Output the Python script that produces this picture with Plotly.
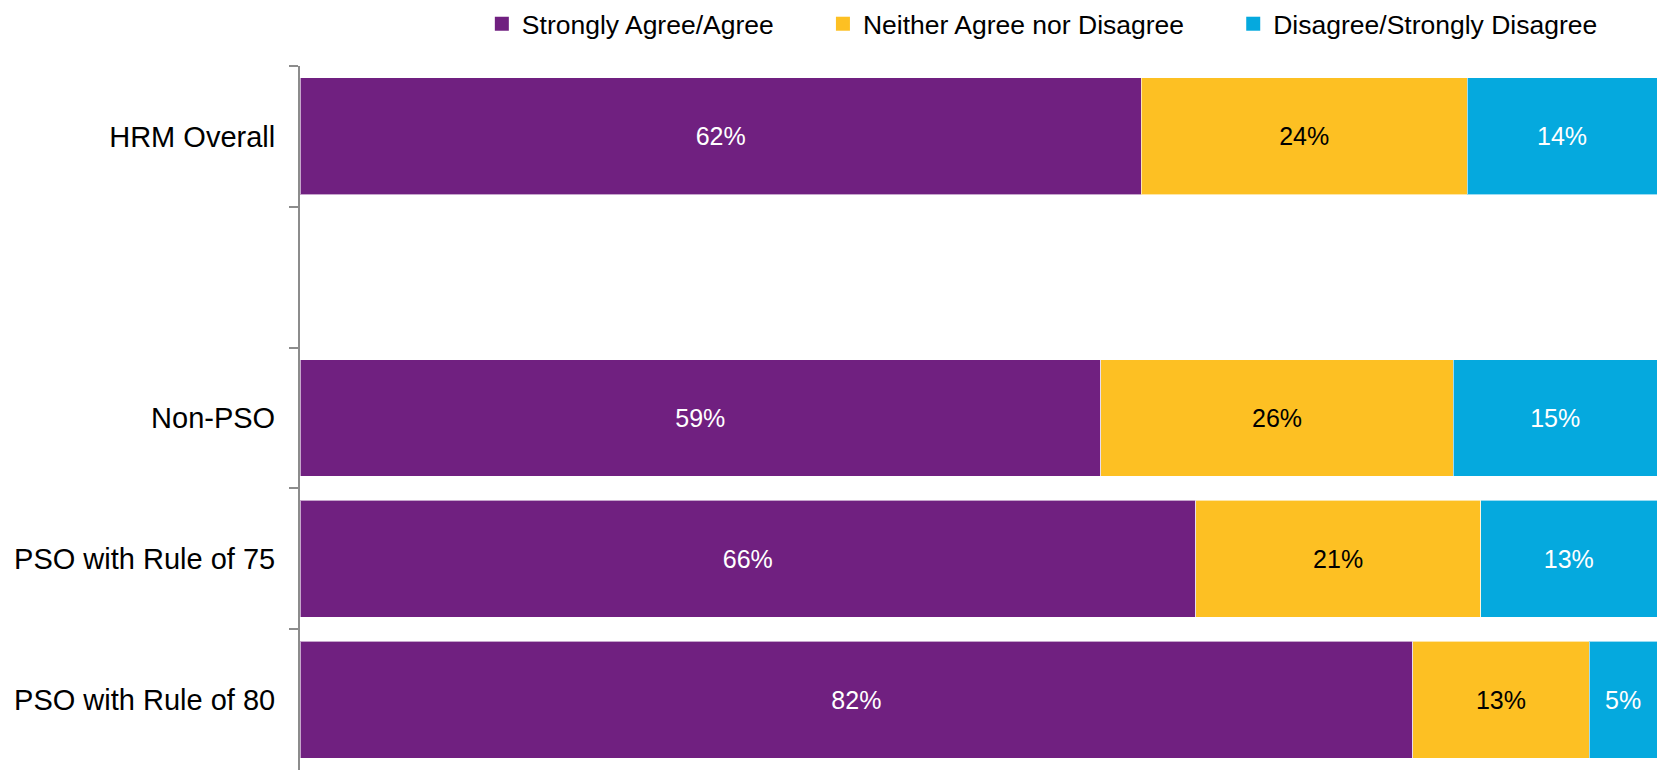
import plotly.graph_objects as go

categories = ["HRM Overall", " ", "Non-PSO", "PSO with Rule of 75", "PSO with Rule of 80"]
agree = [62, None, 59, 66, 82]
neither = [24, None, 26, 21, 13]
disagree = [14, None, 15, 13, 5]

series_names = ["Strongly Agree/Agree", "Neither Agree nor Disagree", "Disagree/Strongly Disagree"]
series_values = [agree, neither, disagree]
series_colors = ["#702080", "#FDC023", "#05A9DE"]
label_colors = ["white", "black", "white"]

FONT = "Arial, Liberation Sans, sans-serif"
pad = "\u00a0" * 6

fig = go.Figure()
for name, vals, color, tcolor in zip(series_names, series_values, series_colors, label_colors):
    fig.add_trace(go.Bar(
        y=categories,
        x=vals,
        name=name,
        orientation="h",
        showlegend=False,
        marker=dict(color=color, line=dict(color="rgba(255,255,255,0.6)", width=1)),
        text=[f"{v}%" if v is not None else "" for v in vals],
        textposition="inside",
        insidetextanchor="middle",
        textangle=0,
        textfont=dict(family=FONT, size=25, color=tcolor),
        hoverinfo="skip",
    ))

# legend-only entries with square swatches
for name, color in zip(series_names, series_colors):
    fig.add_trace(go.Scatter(
        x=[None], y=[None],
        mode="markers",
        name=name + pad,
        marker=dict(symbol="square", size=14, color=color, line=dict(width=0)),
        showlegend=True,
        hoverinfo="skip",
    ))

fig.update_layout(
    barmode="stack",
    bargap=0.17,
    width=1663,
    height=770,
    margin=dict(l=300, r=6, t=65, b=0),
    paper_bgcolor="white",
    plot_bgcolor="white",
    font=dict(family=FONT, color="black"),
    showlegend=True,
    legend=dict(
        orientation="h",
        x=0.134, xanchor="left",
        y=1.0935, yanchor="top",
        font=dict(family=FONT, size=26.5, color="black"),
        itemclick=False,
        traceorder="normal",
    ),
    xaxis=dict(
        range=[0, 100],
        visible=False,
        showgrid=False,
        zeroline=False,
        fixedrange=True,
    ),
    yaxis=dict(
        type="category",
        categoryorder="array",
        categoryarray=categories,
        range=[4.5, -0.5],
        showline=True,
        linecolor="#8C8C8C",
        linewidth=2,
        ticks="outside",
        tickson="boundaries",
        ticklen=9,
        tickwidth=2,
        tickcolor="#8C8C8C",
        showgrid=False,
        zeroline=False,
        tickfont=dict(family=FONT, size=29, color="black"),
        ticklabelstandoff=17,
        fixedrange=True,
    ),
)

fig.write_html("out.html")
